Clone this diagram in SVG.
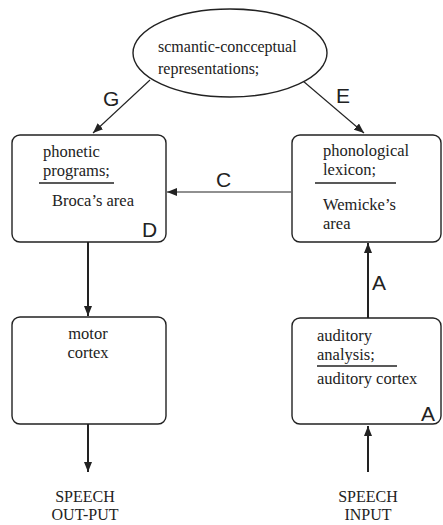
<svg xmlns="http://www.w3.org/2000/svg" width="443" height="525" viewBox="0 0 443 525">
<style>
.box{fill:#fff;stroke:#222;stroke-width:1.4}
.t{font-family:"Liberation Serif","Times New Roman",serif;font-size:16.5px;fill:#222}
.te{font-family:"Liberation Serif","Times New Roman",serif;font-size:16px;fill:#222}
.sp{font-family:"Liberation Serif","Times New Roman",serif;font-size:16px;fill:#222}
.lbl{font-family:"Liberation Sans",Arial,sans-serif;font-size:21px;fill:#222}
.thin{stroke:#222;stroke-width:1.1;fill:none}
.thick{stroke:#222;stroke-width:2;fill:none}
.ul{stroke:#222;stroke-width:1.3}
</style>
<defs>
<marker id="ah" markerUnits="userSpaceOnUse" markerWidth="10" markerHeight="8" refX="10" refY="4" orient="auto">
<path d="M0,0 L10,4 L0,8 z" fill="#222"/>
</marker>
</defs>
<rect width="443" height="525" fill="#fff"/>
<g id="connectors">
<line class="thin" x1="150" y1="80" x2="93" y2="133" marker-end="url(#ah)"/>
<line class="thin" x1="303" y1="81" x2="364" y2="133" marker-end="url(#ah)"/>
<line class="thin" x1="291" y1="192" x2="167" y2="192" marker-end="url(#ah)"/>
<line class="thick" x1="88" y1="242" x2="88" y2="316" marker-end="url(#ah)"/>
<line class="thick" x1="368" y1="318" x2="368" y2="243" marker-end="url(#ah)"/>
<line class="thick" x1="88" y1="424" x2="88" y2="472" marker-end="url(#ah)"/>
<line class="thick" x1="368" y1="472" x2="368" y2="426" marker-end="url(#ah)"/>
<text class="lbl" x="103" y="106">G</text>
<text class="lbl" x="336" y="103">E</text>
<text class="lbl" x="216" y="187">C</text>
<text class="lbl" x="372" y="290">A</text>
</g>
<g id="semantic">
<ellipse cx="230" cy="53" rx="97" ry="44" fill="#fff" stroke="#222" stroke-width="1.4"/>
<text class="te" x="158" y="52">scmantic-concceptual</text>
<text class="te" x="158" y="74">representations;</text>
</g>
<g id="phonetic">
<rect class="box" x="12" y="135" width="154" height="107" rx="8"/>
<text class="t" x="43" y="157">phonetic</text>
<text class="t" x="43" y="176">programs;</text>
<line class="ul" x1="39" y1="183" x2="114" y2="183"/>
<text class="t" x="52" y="206">Broca’s area</text>
<text class="lbl" x="142" y="237">D</text>
</g>
<g id="phonological">
<rect class="box" x="292" y="135" width="149" height="107" rx="8"/>
<text class="t" x="323" y="156">phonological</text>
<text class="t" x="323" y="175">lexicon;</text>
<line class="ul" x1="315" y1="183" x2="396" y2="183"/>
<text class="t" x="323" y="210">Wemicke’s</text>
<text class="t" x="323" y="229">area</text>
</g>
<g id="motor">
<rect class="box" x="12" y="317" width="154" height="107" rx="8"/>
<text class="t" x="88" y="339" text-anchor="middle">motor</text>
<text class="t" x="88" y="358" text-anchor="middle">cortex</text>
</g>
<g id="auditory">
<rect class="box" x="292" y="318" width="149" height="106" rx="8"/>
<text class="t" x="317" y="341">auditory</text>
<text class="t" x="317" y="360">analysis;</text>
<line class="ul" x1="317" y1="366" x2="397" y2="366"/>
<text class="t" x="317" y="384">auditory cortex</text>
<text class="lbl" x="421" y="421">A</text>
</g>
<g id="output">
<text class="sp" x="85" y="502" text-anchor="middle">SPEECH</text>
<text class="sp" x="85" y="520" text-anchor="middle">OUT-PUT</text>
</g>
<g id="input">
<text class="sp" x="368" y="502" text-anchor="middle">SPEECH</text>
<text class="sp" x="368" y="520" text-anchor="middle">INPUT</text>
</g>
</svg>
